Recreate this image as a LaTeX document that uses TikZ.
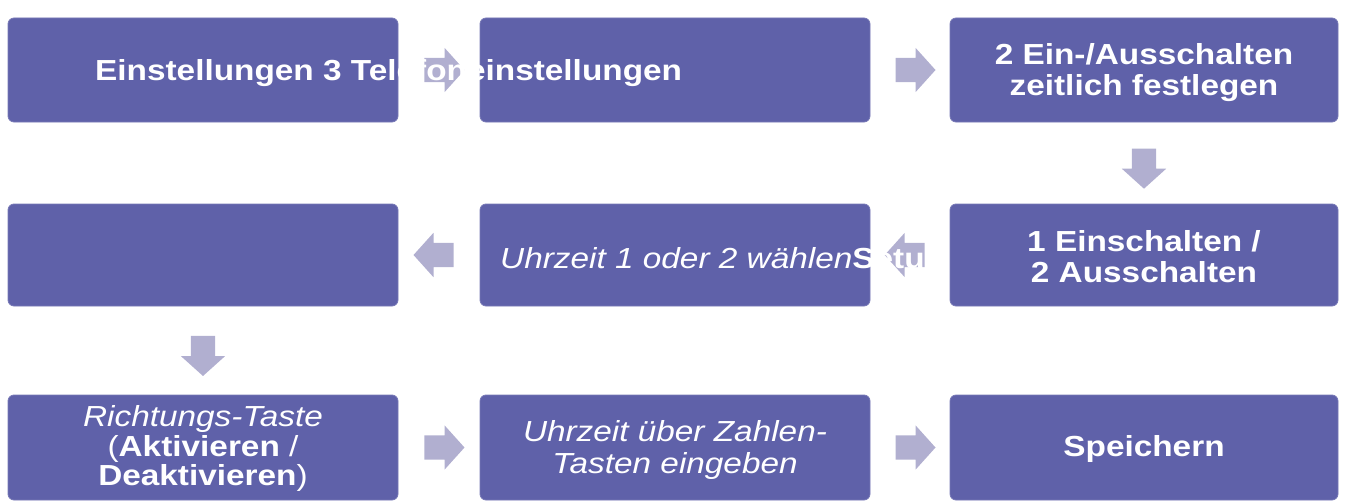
\documentclass[tikz,border=0pt]{standalone}
\usepackage{fontspec}
\setmainfont{Liberation Sans}[FakeStretch=1.15]
\usetikzlibrary{shapes.arrows,calc}
\definecolor{boxc}{HTML}{5F61A9}
\definecolor{arrc}{HTML}{B1AFD0}
\tikzset{
  box/.style={rectangle, rounded corners=6pt, fill=boxc, draw=boxc!85!white, line width=0.8pt, inner sep=0pt, minimum width=390pt},
  txt/.style={text=white, font=\fontsize{29}{31}\selectfont\bfseries, align=center, inner sep=0pt},
  blockarrow/.style={single arrow, fill=arrc, draw=none, inner xsep=0pt, inner ysep=12pt,
    minimum height=40pt, single arrow head extend=10pt, single arrow tip angle=96, anchor=center},
}
\begin{document}
\begin{tikzpicture}[x=1pt,y=-1pt]
\useasboundingbox (0,0) rectangle (1346,503);
% row 1
\node[box, minimum height=104pt] (a1) at (203,70) {};
\node[box, minimum height=104pt] (a2) at (675,70) {};
\node[box, minimum height=104pt, minimum width=388pt] (a3) at (1144,70) {};
\node[blockarrow] (r1) at ($(a1.east)!0.5!(a2.west)$) {};
\node[blockarrow] (r2) at ($(a2.east)!0.5!(a3.west)$) {};
\node[txt, anchor=west] (t1) at (95,73) {Einstellungen 3 Telefoneinstellungen};
\node[txt] (t3) at ([yshift=-3pt]a3.center) {2 Ein-/Ausschalten\\zeitlich festlegen};
% row 2
\coordinate (b3w) at (950,255);
\coordinate (b3n) at (1144,204);
\node[box, minimum height=102pt] (b1) at (203,255) {};
\node[box, minimum height=102pt] (b2) at (675,255) {};
\node[blockarrow, rotate=-90] (d1) at ($(a3.south)!0.5!(b3n)$) {};
\node[blockarrow, rotate=180] (l2) at ($(b2.east)!0.5!(b3w)$) {};
\node[blockarrow, rotate=180] (l1) at ($(b1.east)!0.5!(b2.west)$) {};
\node[txt, anchor=west] (t5) at (500,258) {{\itshape\mdseries Uhrzeit 1 oder 2 wählen}Setu};
\node[box, minimum height=102pt, minimum width=388pt] (b3) at (1144,255) {};
\node[txt] (t6) at ([yshift=-2pt]b3.center) {1 Einschalten /\\2 Ausschalten};
% row 3
\node[box, minimum height=105pt] (c1) at (203,447.5) {};
\node[box, minimum height=105pt] (c2) at (675,447.5) {};
\node[box, minimum height=105pt, minimum width=388pt] (c3) at (1144,447.5) {};
\node[blockarrow, rotate=-90] (d2) at ($(b1.south)!0.5!(c1.north)$) {};
\node[blockarrow] (r3) at ($(c1.east)!0.5!(c2.west)$) {};
\node[blockarrow] (r4) at ($(c2.east)!0.5!(c3.west)$) {};
\node[txt, font=\fontsize{29}{29.5}\selectfont\bfseries] (t7) at ([yshift=-1pt]c1.center) {{\itshape\mdseries Richtungs-Taste}\\{\mdseries(}Aktivieren {\mdseries/}\\Deaktivieren{\mdseries)}};
\node[txt, font=\fontsize{29}{32}\selectfont\itshape] (t8) at ([yshift=-2pt]c2.center) {Uhrzeit über Zahlen-\\Tasten eingeben};
\node[txt] (t9) at ([yshift=-1pt]c3.center) {Speichern};
\end{tikzpicture}
\end{document}
